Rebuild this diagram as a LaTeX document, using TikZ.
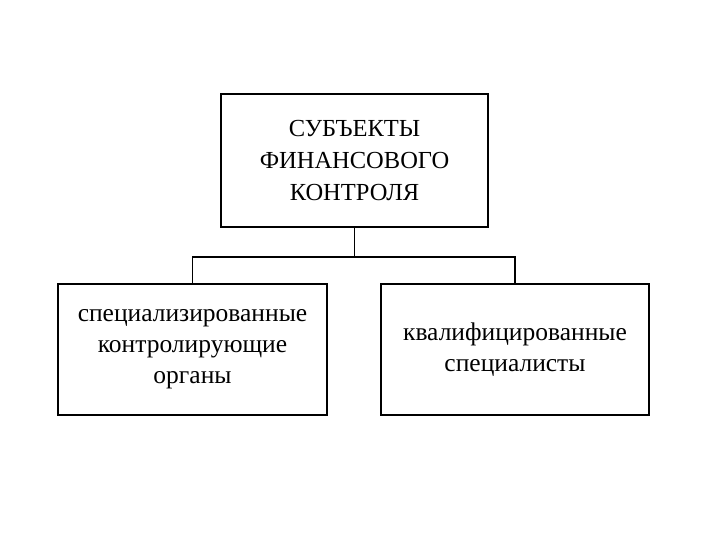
\documentclass[tikz,border=0pt]{standalone}
\usepackage{fontspec}
\setmainfont{Liberation Serif}
\begin{document}
\begin{tikzpicture}[x=1pt,y=-1pt,
  box/.style={draw=black,line width=1.8pt,align=center,inner sep=0pt},
  conn/.style={draw=black,line width=1.8pt}]
\useasboundingbox[fill=white] (0,0) rectangle (720,540);
\node[box,minimum width=267pt,minimum height=133pt,font=\fontsize{24.5}{32}\selectfont] (top) at (354.5,160.5) {СУБЪЕКТЫ\\ФИНАНСОВОГО\\КОНТРОЛЯ};
\node[box,minimum width=269pt,minimum height=131pt,font=\fontsize{25.5}{31}\selectfont] (left) at (192.5,349.5) {специализированные\\контролирующие\\органы};
\node[box,minimum width=268pt,minimum height=131pt,font=\fontsize{25.5}{31}\selectfont] (right) at (515,349.5) {квалифицированные\\специалисты};
\coordinate (j) at (354.5,257);
\draw[conn] (top.south) -- (j);
\draw[conn] (left.north) |- (j) -| (right.north);
\end{tikzpicture}
\end{document}
